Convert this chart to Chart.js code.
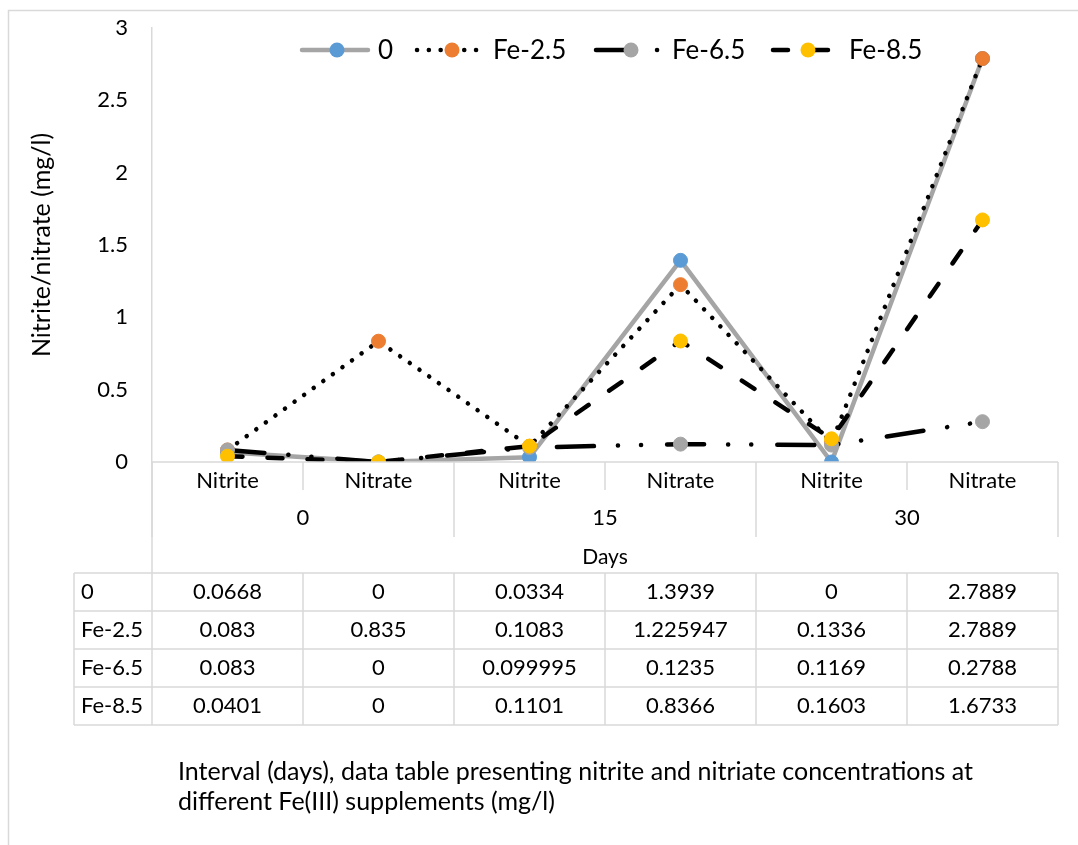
<!DOCTYPE html>
<html>
<head>
<meta charset="utf-8">
<script src="https://cdn.jsdelivr.net/npm/chart.js@4/dist/chart.umd.min.js"></script>
<style>
    body { margin: 0; background: #fff; }
    canvas { display: block; }
</style>
</head>
<body>
<canvas id="myChart" width="1078" height="845"></canvas>
<script>
/*-------------------------
~~~~~~~~~~~Data~~~~~~~~~~~~
-------------------------*/
const categories = ['Nitrite', 'Nitrate', 'Nitrite', 'Nitrate', 'Nitrite', 'Nitrate'];
const dayGroups = ['0', '15', '30'];
const xTitle = 'Days';
const yTitle = 'Nitrite/nitrate (mg/l)';
const caption = [
    'Interval (days), data table presenting nitrite and nitriate concentrations at',
    'different Fe(III) supplements (mg/l)'
];
const seriesNames = ['0', 'Fe-2.5', 'Fe-6.5', 'Fe-8.5'];
const control = [0.0668, 0, 0.0334, 1.3939, 0, 2.7889];
const fe25 = [0.083, 0.835, 0.1083, 1.225947, 0.1336, 2.7889];
const fe65 = [0.083, 0, 0.099995, 0.1235, 0.1169, 0.2788];
const fe85 = [0.0401, 0, 0.1101, 0.8366, 0.1603, 1.6733];
const yMin = 0;
const yMax = 3;
const yStep = 0.5;


/*-------------------------
~~~~~~~~~~~Styles~~~~~~~~~~
-------------------------*/
const fontFamily = 'Lato, "Open Sans", sans-serif';
const textColor = '#000';
const lineGray = '#d9d9d9';

function newDataset(label, data, lineColor, markerColor, dash, order){
    return {
        label: label,
        data: data,
        borderColor: lineColor,
        borderWidth: 4.5,
        borderDash: dash,
        borderCapStyle: 'round',
        borderJoinStyle: 'round',
        pointRadius: 7,
        pointHoverRadius: 7,
        pointBackgroundColor: markerColor,
        pointBorderColor: markerColor,
        pointBorderWidth: 1,
        tension: 0,
        fill: false,
        order: order
    };
}

const datasets = [
    newDataset(seriesNames[0], control, '#a5a5a5', '#5b9bd5', [], 3),
    newDataset(seriesNames[1], fe25, '#000', '#ed7d31', [0.1, 11.7], 2),
    newDataset(seriesNames[2], fe65, '#000', '#a5a5a5', [37, 24, 0.1, 23, 0.1, 26], 1),
    newDataset(seriesNames[3], fe85, '#000', '#ffc000', [15, 25], 0)
];


/*-------------------------
~~~~~~Custom drawing~~~~~~~
-------------------------*/
function line(ctx, x1, y1, x2, y2){
    ctx.beginPath();
    ctx.moveTo(x1, y1);
    ctx.lineTo(x2, y2);
    ctx.stroke();
}

const frame = {
    id: 'frame',
    beforeDraw(chart){
        const ctx = chart.ctx;
        ctx.save();
        ctx.fillStyle = '#fff';
        ctx.fillRect(0, 0, chart.width, chart.height);
        ctx.strokeStyle = lineGray;
        ctx.lineWidth = 1.5;
        ctx.strokeRect(8.5, 10.5, chart.width + 20, chart.height + 20);
        ctx.restore();
    }
};

// category axis, day groups and data table below the plot
const axisTable = {
    id: 'axisTable',
    afterDraw(chart){
        const ctx = chart.ctx;
        const area = chart.chartArea;
        const xs = chart.scales.x;
        const left = area.left, right = area.right, bottom = area.bottom;
        const colW = (right - left) / categories.length;
        const labelY = bottom + 19;
        const groupY = bottom + 56;
        const titleY = bottom + 95;
        const tableTop = bottom + 111;
        const rowH = 38;
        const tableLeft = 74;
        const tableBottom = tableTop + rowH * seriesNames.length;

        ctx.save();
        ctx.strokeStyle = lineGray;
        ctx.lineWidth = 1.5;
        // axis line
        line(ctx, left, bottom, right, bottom);
        // dividers
        for(let i = 0; i <= categories.length; i++){
            const x = left + colW * i;
            const isGroup = i % 2 === 0;
            line(ctx, x, bottom, x, isGroup ? bottom + 75 : bottom + 28);
            line(ctx, x, tableTop, x, tableBottom);
        }
        line(ctx, left, bottom, left, tableTop);
        line(ctx, tableLeft, tableTop, tableLeft, tableBottom);
        for(let r = 0; r <= seriesNames.length; r++){
            line(ctx, tableLeft, tableTop + rowH * r, right, tableTop + rowH * r);
        }

        ctx.fillStyle = textColor;
        ctx.textBaseline = 'middle';
        ctx.textAlign = 'center';
        ctx.font = '22px ' + fontFamily;
        categories.forEach((c, i) => {
            ctx.fillText(c, xs.getPixelForValue(i), labelY);
        });
        dayGroups.forEach((g, i) => {
            ctx.fillText(g, left + colW * (2 * i + 1), groupY);
        });
        ctx.font = '21px ' + fontFamily;
        ctx.fillText(xTitle, (left + right) / 2, titleY);

        // data table
        ctx.font = '22px ' + fontFamily;
        chart.data.datasets.forEach((ds, r) => {
            const y = tableTop + rowH * r + rowH / 2;
            ctx.textAlign = 'left';
            ctx.fillText(ds.label, tableLeft + 7, y);
            ctx.textAlign = 'center';
            ds.data.forEach((v, i) => {
                ctx.fillText(String(v), xs.getPixelForValue(i), y);
            });
        });

        // caption
        ctx.textAlign = 'left';
        ctx.font = '25px ' + fontFamily;
        caption.forEach((t, i) => ctx.fillText(t, 178, 772 + 30 * i));
        ctx.restore();
    }
};

// legend drawn inside the plot area, line sample with marker in the middle
const lineLegend = {
    id: 'lineLegend',
    afterDraw(chart){
        const ctx = chart.ctx;
        const starts = [302, 417, 596, 773];
        const sampleW = 70;
        const y = 50;
        ctx.save();
        chart.data.datasets.forEach((ds, i) => {
            const x = starts[i];
            ctx.strokeStyle = ds.borderColor;
            ctx.lineWidth = ds.borderWidth;
            ctx.lineCap = 'round';
            ctx.setLineDash(ds.borderDash);
            line(ctx, x, y, x + sampleW - 4, y);
            ctx.setLineDash([]);
            ctx.fillStyle = ds.pointBackgroundColor;
            ctx.beginPath();
            ctx.arc(x + 35, y, 7.5, 0, Math.PI * 2);
            ctx.fill();
            ctx.fillStyle = textColor;
            ctx.font = '26px ' + fontFamily;
            ctx.textAlign = 'left';
            ctx.textBaseline = 'middle';
            ctx.fillText(ds.label, x + sampleW + 6, y + 1);
        });
        ctx.restore();
    }
};


/*-------------------------
~~~~~~~~~~~Chart~~~~~~~~~~~
-------------------------*/
const ctx = document.getElementById('myChart').getContext('2d');
const myChart = new Chart(ctx, {
    type: 'line',
    data: {
        labels: categories,
        datasets: datasets
    },
    options: {
        responsive: false,
        animation: false,
        layout: {
            padding: { left: 0, right: 20, top: 28, bottom: 383 }
        },
        plugins: {
            legend: { display: false },
            tooltip: { enabled: false }
        },
        scales: {
            x: {
                display: false,
                offset: true
            },
            y: {
                min: yMin,
                max: yMax,
                ticks: {
                    stepSize: yStep,
                    padding: 24,
                    color: textColor,
                    font: { family: fontFamily, size: 22 },
                    callback: (v) => String(v)
                },
                grid: { display: false, drawTicks: false },
                border: { display: true, color: lineGray, width: 1.5 },
                title: {
                    display: true,
                    text: yTitle,
                    color: textColor,
                    font: { family: fontFamily, size: 25 },
                    padding: { top: 27, bottom: 0 }
                },
                afterFit: (scale) => {
                    scale.width = 152;
                    // keep the plot top at the layout padding, labels may overhang
                    scale.paddingTop = 0;
                    scale.paddingBottom = 0;
                }
            }
        }
    },
    plugins: [frame, axisTable, lineLegend]
});
</script>
</body>
</html>
